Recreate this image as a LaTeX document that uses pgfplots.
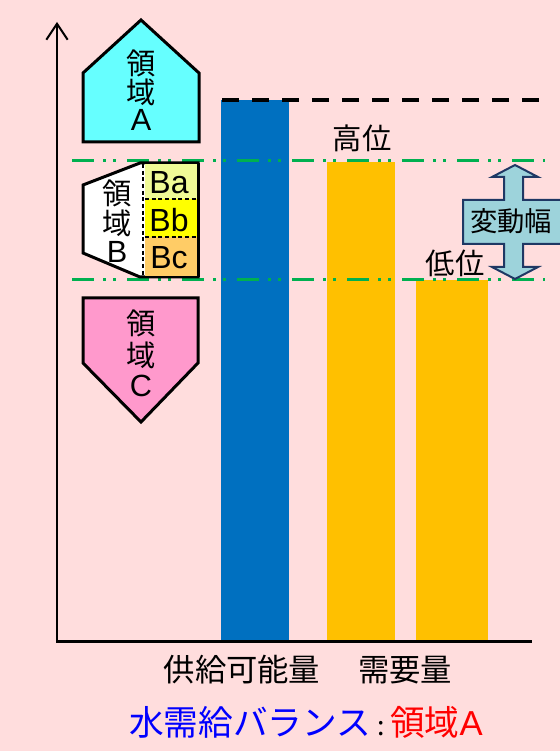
\documentclass[border=0pt]{standalone}
\usepackage{pgfplots}
\pgfplotsset{compat=1.18}
\usepackage{fontspec}
\setmainfont{Noto Sans CJK JP}
\newfontfamily\lat{Liberation Sans}
\usetikzlibrary{arrows.meta}
\definecolor{bgpink}{HTML}{FFDDDD}
\definecolor{barblue}{HTML}{0070C0}
\definecolor{barorange}{HTML}{FFC000}
\definecolor{lgreen}{HTML}{00B050}
\definecolor{cyanA}{HTML}{66FFFF}
\definecolor{pinkC}{HTML}{FF99CC}
\definecolor{colBa}{HTML}{F0FA96}
\definecolor{colBb}{HTML}{FFFF00}
\definecolor{colBc}{HTML}{FFCC66}
\definecolor{arrfill}{HTML}{9DD3DB}
\definecolor{arrdraw}{HTML}{1F3864}
\definecolor{tblue}{HTML}{0000FF}
\definecolor{tred}{HTML}{FF0000}
\newcommand{\fs}[1]{\fontsize{#1}{#1}\selectfont}
\begin{document}
\begin{tikzpicture}
\begin{axis}[
  scale only axis, width=420pt, height=563.25pt,
  xmin=0, xmax=560, ymin=-110, ymax=641,
  hide axis, clip=false,
]
\coordinate (SW) at (axis cs:0,-110);
\coordinate (NE) at (axis cs:560,641);
\fill[bgpink] (axis cs:0,-110) rectangle (axis cs:560,641);
% bars
\addplot[ybar, bar width=68, bar shift=0pt, fill=barblue, draw=none] coordinates {(255,541)};
\addplot[ybar, bar width=68, bar shift=0pt, fill=barorange, draw=none] coordinates {(361,479)};
\addplot[ybar, bar width=72, bar shift=0pt, fill=barorange, draw=none] coordinates {(452,361)};
% axes
\draw[line width=1.5pt, -{Straight Barb[length=12pt,width=16pt]}] (axis cs:57,-2) -- (axis cs:57,619);
\draw[line width=2.25pt] (axis cs:56,-1) -- (axis cs:532,-1);
% reference lines
\draw[line width=3pt, dash pattern=on 12.75pt off 9.75pt] (axis cs:222,541) -- (axis cs:541,541);
\draw[line width=2.25pt, lgreen, dash pattern=on 16.5pt off 6.75pt on 2.25pt off 5.25pt on 2.25pt off 8.25pt] (axis cs:72,480) -- (axis cs:545,480);
\draw[line width=2.25pt, lgreen, dash pattern=on 16.5pt off 6.75pt on 2.25pt off 5.25pt on 2.25pt off 8.25pt] (axis cs:72,361) -- (axis cs:545,361);
% Region A
\draw[line width=2.25pt, fill=cyanA, line join=miter] (axis cs:83,499) -- (axis cs:199,499) -- (axis cs:199,568) -- (axis cs:141,621) -- (axis cs:83,568) -- cycle;
\node[font=\fs{22}] at (axis cs:141,578) {領};
\node[font=\fs{22}] at (axis cs:141,549) {域};
\node[font=\fs{23}\lat] at (axis cs:141,521) {A};
% Region B
\draw[line width=2.25pt, fill=white, line join=miter] (axis cs:83,456) -- (axis cs:140,478) -- (axis cs:198,478) -- (axis cs:198,364) -- (axis cs:140,364) -- (axis cs:83,388) -- cycle;
\fill[colBa] (axis cs:145,477) rectangle (axis cs:197,442);
\fill[colBb] (axis cs:145,442) rectangle (axis cs:197,404);
\fill[colBc] (axis cs:145,404) rectangle (axis cs:197,365);
\draw[line width=0.8pt, dash pattern=on 3pt off 2pt] (axis cs:143,477) -- (axis cs:143,365);
\draw[line width=0.8pt, dash pattern=on 3pt off 2pt] (axis cs:145,442) -- (axis cs:197,442);
\draw[line width=0.8pt, dash pattern=on 3pt off 2pt] (axis cs:145,404) -- (axis cs:197,404);
\draw[line width=2.25pt] (axis cs:198,478) -- (axis cs:198,364);
\node[font=\fs{22}] at (axis cs:117,448) {領};
\node[font=\fs{22}] at (axis cs:117,418) {域};
\node[font=\fs{23}\lat] at (axis cs:117,389) {B};
\node[font=\fs{24}\lat] at (axis cs:169,458) {Ba};
\node[font=\fs{24}\lat] at (axis cs:169,421) {Bb};
\node[font=\fs{24}\lat] at (axis cs:169,383) {Bc};
% Region C
\draw[line width=2.25pt, fill=pinkC, line join=miter] (axis cs:83,343) -- (axis cs:198,343) -- (axis cs:198,278) -- (axis cs:141,219) -- (axis cs:83,278) -- cycle;
\node[font=\fs{22}] at (axis cs:141,318) {領};
\node[font=\fs{22}] at (axis cs:141,286) {域};
\node[font=\fs{23}\lat] at (axis cs:141,255) {C};
% labels
\node[font=\fs{22}] at (axis cs:362,503) {高位};
\node[font=\fs{22}] at (axis cs:455,378) {低位};
% variation arrow
\draw[line width=1.5pt, draw=arrdraw, fill=arrfill, line join=miter]
 (axis cs:515,476) -- (axis cs:538,464) -- (axis cs:523,464) -- (axis cs:523,441) -- (axis cs:562,441) -- (axis cs:562,397) -- (axis cs:523,397) -- (axis cs:523,374) -- (axis cs:538,374) -- (axis cs:515,362) -- (axis cs:492,374) -- (axis cs:504,374) -- (axis cs:504,397) -- (axis cs:463,397) -- (axis cs:463,441) -- (axis cs:504,441) -- (axis cs:504,464) -- (axis cs:492,464) -- cycle;
\node[font=\fs{20.5}] at (axis cs:511,420) {変動幅};
% category labels
\node[font=\fs{23.5}] at (axis cs:242,-29) {供給可能量};
\node[font=\fs{23.5}] at (axis cs:405,-29) {需要量};
% title
\node[font=\fs{26}] at (axis cs:306,-81) {\textcolor{tblue}{水需給バランス}\,{\fs{20}:}\,\textcolor{tred}{領域{\lat A}}};
\end{axis}
\pgfresetboundingbox
\useasboundingbox (SW) rectangle (NE);
\end{tikzpicture}
\end{document}
